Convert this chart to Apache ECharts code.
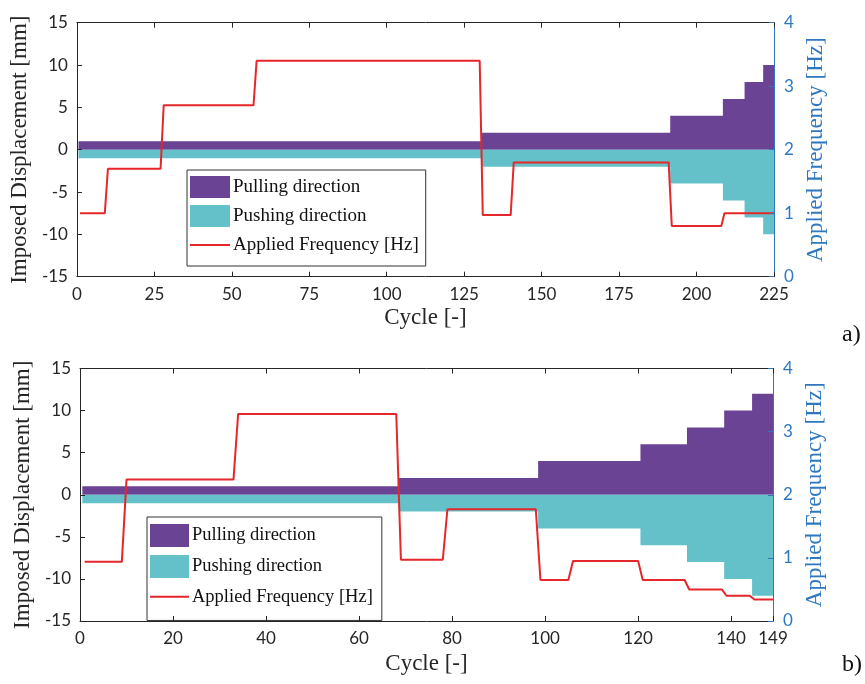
<!DOCTYPE html>
<html>
<head>
<meta charset="utf-8">
<script src="https://cdn.jsdelivr.net/npm/echarts@6/dist/echarts.min.js"></script>
<style>
html,body{margin:0;padding:0;background:#fff;}
#c{width:865px;height:684px;}
</style>
</head>
<body>
<div id="c"></div>
<script>
// ---- Data: chart a) ----
const pullTopX = [0.5, 130.5, 191.5, 208.5, 215.5, 221.5, 225];
const pullTopV = [1, 2, 4, 6, 8, 10, 10];
const pushTopV = [-1, -2, -4, -6, -8, -10, -10];
const freqTopX = [1, 9, 10, 27, 28, 57, 58, 130, 131, 140, 141, 191, 192, 208, 209, 225];
const freqTopV = [1.0, 1.0, 1.7, 1.7, 2.7, 2.7, 3.4, 3.4, 0.97, 0.97, 1.8, 1.8, 0.8, 0.8, 1.0, 1.0];

// ---- Data: chart b) ----
const pullBotX = [0.5, 68.5, 98.5, 120.5, 130.5, 138.5, 144.5, 149];
const pullBotV = [1, 2, 4, 6, 8, 10, 12, 12];
const pushBotV = [-1, -2, -4, -6, -8, -10, -12, -12];
const freqBotX = [1, 9, 10, 33, 34, 68, 69, 78, 79, 98, 99, 105, 106, 120, 121, 130, 131, 138, 139, 144, 145, 149];
const freqBotV = [0.94, 0.94, 2.24, 2.24, 3.28, 3.28, 0.97, 0.97, 1.77, 1.77, 0.65, 0.65, 0.95, 0.95, 0.65, 0.65, 0.50, 0.50, 0.40, 0.40, 0.34, 0.34];

// ---- Axes ----
const topXMax = 225, topXInterval = 25;
const botXMax = 149, botXInterval = 20;
const dispMin = -15, dispMax = 15, dispInterval = 5;
const freqMin = 0, freqMax = 4, freqInterval = 1;

const names = ['Pulling direction', 'Pushing direction', 'Applied Frequency [Hz]'];

const PURPLE = '#6B4394', CYAN = '#64C1CA', RED = '#E5262A', BLUE = '#2F78C0', AX = '#262626';
const SERIF = 'Liberation Serif', SANS = 'Lato';
// thin centred line icon (tiny corner specks keep the full 40x22 box)
const LINE_ICON = 'path://M0,10L40,10L40,12L0,12Z M0,0L0.01,0L0.01,0.01Z M39.99,21.99L40,21.99L40,22Z';

const zip = (xs, ys) => xs.map((x, i) => [x, ys[i]]);

function xAx(grid, max, interval, top, nameGap) {
  return {
    type: 'value', gridIndex: grid, min: 0, max: max, interval: interval,
    position: top ? 'top' : 'bottom', z: 5,
    name: top ? '' : 'Cycle [-]', nameLocation: 'middle', nameGap: nameGap,
    nameTextStyle: {fontFamily: SERIF, fontSize: 23, color: AX},
    axisLine: {show: true, onZero: false, lineStyle: {color: AX, width: 1}},
    axisTick: {show: true, inside: true, length: 5, lineStyle: {color: AX}},
    axisLabel: {show: !top, fontFamily: SANS, fontSize: 17, color: AX, margin: 9, showMaxLabel: true},
    splitLine: {show: false}
  };
}
function yLeft(grid, nameGap) {
  return {
    type: 'value', gridIndex: grid, min: dispMin, max: dispMax, interval: dispInterval, position: 'left', z: 5,
    name: 'Imposed Displacement [mm]', nameLocation: 'middle', nameGap: nameGap, nameRotate: 90,
    nameTextStyle: {fontFamily: SERIF, fontSize: 23, color: AX},
    axisLine: {show: true, onZero: false, lineStyle: {color: AX, width: 1}},
    axisTick: {show: true, inside: true, length: 5, lineStyle: {color: AX}},
    axisLabel: {fontFamily: SANS, fontSize: 17, color: AX, margin: 9},
    splitLine: {show: false}
  };
}
function yRight(grid, nameGap) {
  return {
    type: 'value', gridIndex: grid, min: freqMin, max: freqMax, interval: freqInterval, position: 'right', z: 5,
    name: 'Applied Frequency [Hz]', nameLocation: 'middle', nameGap: nameGap, nameRotate: 90,
    nameTextStyle: {fontFamily: SERIF, fontSize: 23, color: BLUE},
    axisLine: {show: true, onZero: false, lineStyle: {color: BLUE, width: 1}},
    axisTick: {show: true, inside: true, length: 5, lineStyle: {color: BLUE}},
    axisLabel: {fontFamily: SANS, fontSize: 17, color: BLUE, margin: 10},
    splitLine: {show: false}
  };
}
function areaSeries(name, color, xi, yi, data) {
  return {
    name: name, type: 'line', xAxisIndex: xi, yAxisIndex: yi, step: 'end', symbol: 'none',
    data: data, lineStyle: {width: 0, color: color}, itemStyle: {color: color},
    areaStyle: {color: color, opacity: 1}, z: 2, silent: true, animation: false
  };
}
function freqSeries(xi, yi, data) {
  return {
    name: names[2], type: 'line', xAxisIndex: xi, yAxisIndex: yi, symbol: 'none',
    data: data, lineStyle: {width: 2, color: RED}, itemStyle: {color: RED}, z: 3, animation: false
  };
}
function legend(left, top, fs, iw, ih, gap, pad) {
  return {
    orient: 'vertical', left: left, top: top, itemWidth: iw, itemHeight: ih, itemGap: gap,
    padding: pad, borderColor: '#333', borderWidth: 1, backgroundColor: '#fff',
    selectedMode: false,
    textStyle: {fontFamily: SERIF, fontSize: fs, color: '#111', padding: [0, 0, 0, -2]},
    data: [{name: names[0], icon: 'rect'}, {name: names[1], icon: 'rect'},
           {name: names[2], icon: LINE_ICON, itemStyle: {color: RED}}]
  };
}

const chart = echarts.init(document.getElementById('c'), null, {renderer: 'canvas'});
chart.setOption({
  animation: false,
  grid: [
    {left: 73, top: 22.7, width: 701, height: 254},
    {left: 80, top: 368.5, width: 693, height: 252.5}
  ],
  xAxis: [
    xAx(0, topXMax, topXInterval, false, 30), xAx(0, topXMax, topXInterval, true, 0),
    xAx(1, botXMax, botXInterval, false, 31), xAx(1, botXMax, botXInterval, true, 0)
  ],
  yAxis: [yLeft(0, 36), yRight(0, 30), yLeft(1, 40), yRight(1, 30)],
  legend: [
    legend(187, 170, 19, 40, 22, 7, [6, 7, 10, 3]),
    legend(147, 517, 18.5, 39, 23, 8, [7, 9, 13, 3])
  ],
  graphic: [
    {type: 'text', left: 842, top: 323, style: {text: 'a)', font: '24px "Liberation Serif"', fill: '#111'}},
    {type: 'text', left: 842, top: 653, style: {text: 'b)', font: '24px "Liberation Serif"', fill: '#111'}}
  ],
  series: [
    areaSeries(names[0], PURPLE, 0, 0, zip(pullTopX, pullTopV)),
    areaSeries(names[1], CYAN, 0, 0, zip(pullTopX, pushTopV)),
    freqSeries(0, 1, zip(freqTopX, freqTopV)),
    areaSeries(names[0], PURPLE, 2, 2, zip(pullBotX, pullBotV)),
    areaSeries(names[1], CYAN, 2, 2, zip(pullBotX, pushBotV)),
    freqSeries(2, 3, zip(freqBotX, freqBotV))
  ]
});
</script>
</body>
</html>
